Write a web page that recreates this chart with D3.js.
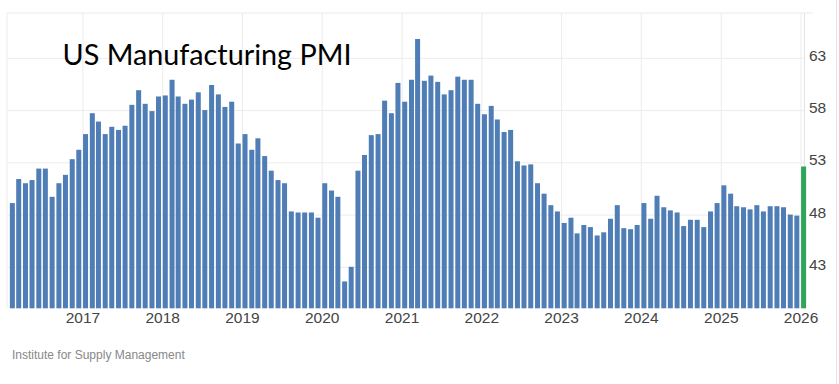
<!DOCTYPE html>
<html>
<head>
<meta charset="utf-8">
<script src="https://cdn.jsdelivr.net/npm/d3@7"></script>
<style>
	body { margin: 0; background: #fff; }
	svg { display: block; }
</style>
</head>
<body>
<div id="chart"></div>
<script>
// monthly ISM manufacturing PMI, Feb 2016 .. Jan 2026
var firstMonth = new Date(2016, 1, 1);
var pmi = [
	49.1, 51.4, 51.0, 51.3, 52.4, 52.4, 49.7, 51.0, 51.8, 53.3, 54.2,
	55.7, 57.7, 56.9, 55.7, 56.4, 56.1, 56.5, 58.5, 59.9, 58.6, 57.9, 59.3,
	59.4, 60.9, 59.3, 58.6, 59.0, 59.7, 58.0, 60.4, 59.5, 58.3, 58.8, 54.8,
	55.7, 54.2, 55.3, 53.6, 52.2, 51.3, 51.0, 48.3, 48.2, 48.2, 48.2, 47.7,
	51.0, 50.3, 49.7, 41.6, 43.0, 52.2, 53.7, 55.6, 55.7, 58.9, 57.7, 60.6,
	58.8, 60.9, 64.8, 60.8, 61.3, 60.7, 59.5, 59.9, 61.2, 60.9, 60.9, 58.6,
	57.6, 58.4, 57.1, 55.9, 56.1, 53.1, 52.7, 52.8, 51.0, 50.0, 48.9, 48.3,
	47.2, 47.7, 46.2, 47.0, 46.8, 46.0, 46.3, 47.6, 48.9, 46.7, 46.6, 47.0,
	49.1, 47.6, 49.8, 48.7, 48.4, 48.2, 46.9, 47.5, 47.5, 46.8, 48.3, 49.1,
	50.8, 50.0, 48.8, 48.7, 48.5, 48.9, 48.3, 48.8, 48.8, 48.7, 48.0, 47.9,
	52.6
];
var yTicks = [43, 48, 53, 58, 63];
var yearTicks = [2017, 2018, 2019, 2020, 2021, 2022, 2023, 2024, 2025, 2026];
var title = 'US Manufacturing PMI';
var source = 'Institute for Supply Management';

var width = 839, height = 384;
var plot = {left: 7, right: 805, top: 13, bottom: 308.3};

var data = pmi.map(function(v, i){
	return {date: d3.timeMonth.offset(firstMonth, i), value: v, last: i == pmi.length-1};
});

var x = d3.scaleTime()
	.domain([new Date(2016, 0, 1), new Date(2026, 0, 1)])
	.range([2.5, 800.5]);
var y = d3.scaleLinear()
	.domain([39.03, 67.29])
	.range([plot.bottom, plot.top]);

var svg = d3.select('#chart').append('svg')
	.attr('width', width)
	.attr('height', height);

// horizontal grid
svg.append('g')
	.attr('transform', 'translate(' + plot.left + ',0)')
	.call(d3.axisRight(y).tickValues(yTicks).tickSize(plot.right - plot.left).tickFormat(''))
	.call(function(g){ g.select('.domain').remove(); })
	.selectAll('line').attr('stroke', '#ececec');

// vertical grid at each year
svg.append('g')
	.attr('transform', 'translate(0,' + plot.top + ')')
	.call(d3.axisBottom(x).tickValues(yearTicks.map(function(yr){ return new Date(yr, 0, 1); }))
		.tickSize(plot.bottom - plot.top).tickFormat(''))
	.call(function(g){ g.select('.domain').remove(); })
	.selectAll('line').attr('stroke', '#ececec');

// frame
svg.append('line').attr('x1', plot.left).attr('x2', 813).attr('y1', plot.top).attr('y2', plot.top)
	.attr('stroke', '#ebebeb');
svg.append('line').attr('x1', plot.left).attr('x2', plot.left).attr('y1', plot.top).attr('y2', plot.bottom)
	.attr('stroke', '#ebebeb');
svg.append('line').attr('x1', plot.right - 0.5).attr('x2', plot.right - 0.5).attr('y1', plot.top).attr('y2', plot.bottom)
	.attr('stroke', '#e2e2e2');
svg.append('line').attr('x1', 836.5).attr('x2', 836.5).attr('y1', 0).attr('y2', height)
	.attr('stroke', '#e4e4e4');

// bars
svg.selectAll('.bar')
	.data(data)
	.enter()
	.append('rect')
	.attr('class', 'bar')
	.attr('x', function(d){ return x(d.date) + 0.6; })
	.attr('width', 5)
	.attr('y', function(d){ return y(d.value); })
	.attr('height', function(d){ return plot.bottom - y(d.value); })
	.attr('fill', function(d){ return d.last ? '#2ea55a' : '#4f7db5'; });

// y labels on the right
svg.append('g')
	.attr('transform', 'translate(' + (plot.right + 4) + ',0)')
	.call(d3.axisRight(y).tickValues(yTicks).tickSize(0).tickPadding(0))
	.call(function(g){ g.select('.domain').remove(); })
	.selectAll('text')
	.attr('dy', null)
	.attr('y', 2.5)
	.attr('font-family', 'Liberation Sans, Arial, sans-serif')
	.attr('font-size', '15.5px')
	.attr('fill', '#444');

// x labels
svg.append('g')
	.attr('transform', 'translate(0,' + plot.bottom + ')')
	.call(d3.axisBottom(x).tickValues(yearTicks.map(function(yr){ return new Date(yr, 0, 1); }))
		.tickSize(0).tickPadding(0).tickFormat(d3.timeFormat('%Y')))
	.call(function(g){ g.select('.domain').remove(); })
	.selectAll('text')
	.attr('dy', null)
	.attr('y', 14.7)
	.attr('font-family', 'Liberation Sans, Arial, sans-serif')
	.attr('font-size', '15.5px')
	.attr('fill', '#444');

// title
svg.append('text')
	.attr('x', 62.5)
	.attr('y', 65)
	.attr('font-family', 'Lato, sans-serif')
	.attr('font-size', '28px')
	.attr('textLength', 289)
	.attr('lengthAdjust', 'spacingAndGlyphs')
	.attr('fill', '#000')
	.text(title);

// source
svg.append('text')
	.attr('x', 12)
	.attr('y', 359)
	.attr('font-family', 'Liberation Sans, Arial, sans-serif')
	.attr('font-size', '12px')
	.attr('fill', '#888')
	.text(source);
</script>
</body>
</html>
